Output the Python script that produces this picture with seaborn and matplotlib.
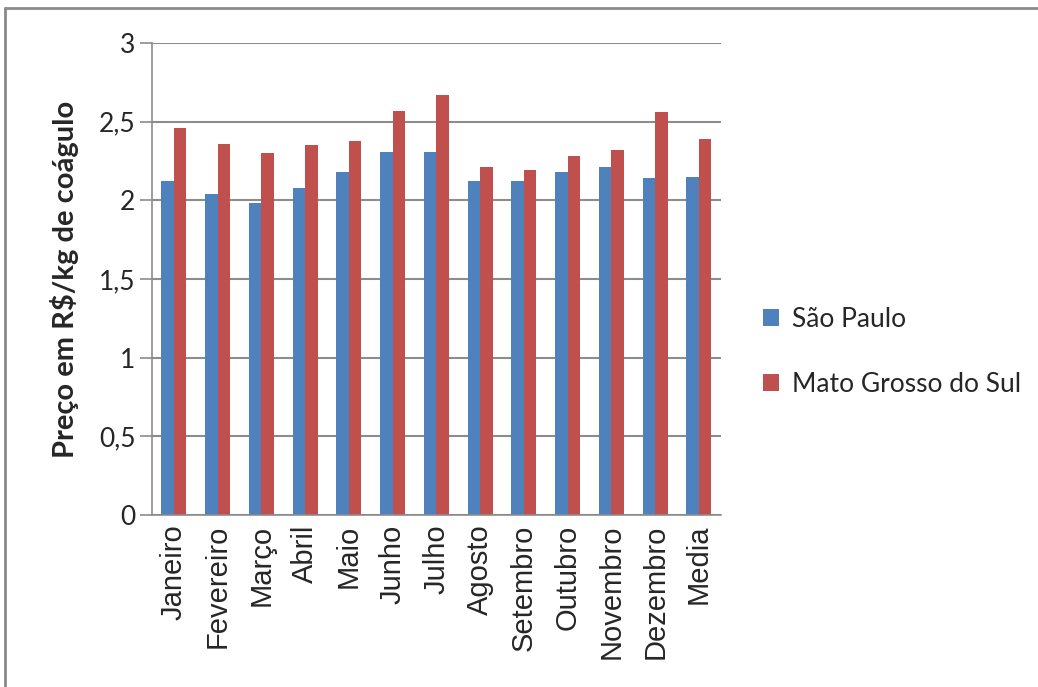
import pandas as pd
import numpy as np
import matplotlib
matplotlib.use("Agg")
import matplotlib.pyplot as plt
from matplotlib.lines import Line2D
from matplotlib.patches import Patch
import seaborn as sns

# dados (R$/kg de coágulo)
meses = ["Janeiro", "Fevereiro", "Março", "Abril", "Maio", "Junho", "Julho",
         "Agosto", "Setembro", "Outubro", "Novembro", "Dezembro", "Media"]
sao_paulo = [2.12, 2.04, 1.98, 2.08, 2.18, 2.31, 2.31, 2.12, 2.12, 2.18, 2.21, 2.14, 2.15]
mato_grosso_sul = [2.46, 2.36, 2.30, 2.35, 2.38, 2.57, 2.67, 2.21, 2.19, 2.28, 2.32, 2.56, 2.39]
estados = ["São Paulo", "Mato Grosso do Sul"]
cores = ["#4F81BD", "#C0504D"]

df = pd.DataFrame({
    "Mes": meses * 2,
    "Preco": sao_paulo + mato_grosso_sul,
    "Estado": [estados[0]] * len(meses) + [estados[1]] * len(meses),
})

sns.set_style("white")
plt.rcParams['font.family'] = ['Lato', 'DejaVu Sans']

fig = plt.figure(figsize=(10.38, 6.87), dpi=100)
ax = fig.add_axes([0.1464, 0.2504, 0.548, 0.687])

sns.barplot(data=df, x="Mes", y="Preco", hue="Estado", palette=cores,
            width=0.57, gap=0, dodge=True, ax=ax, legend=False,
            edgecolor="none", saturation=1)

ax.set_ylim(0, 3)
ax.set_xlim(-0.5, len(meses) - 0.5)
ax.set_yticks(np.arange(0, 3.01, 0.5))
ax.set_yticklabels(["0", "0,5", "1", "1,5", "2", "2,5", "3"], fontsize=19)
ax.yaxis.grid(True, color="#8c8c8c", linewidth=1.5)
ax.set_axisbelow(True)

ax.set_xticks(range(len(meses)))
ax.set_xticklabels(meses, rotation=90, fontsize=21, family="Liberation Sans")
ax.set_xticks(np.arange(-0.5, len(meses), 1), minor=True)
ax.tick_params(axis="x", which="major", length=0, pad=7)
ax.tick_params(axis="x", which="minor", length=8, width=1.2, color="#8c8c8c", direction="out")
ax.tick_params(axis="y", length=9, width=1.2, color="#8c8c8c", direction="out", pad=3, left=True)

ax.set_xlabel("")
ax.set_ylabel("Preço em R$/kg de coágulo", fontsize=21, fontweight="bold", labelpad=14)

for s in ["top", "right"]:
    ax.spines[s].set_visible(False)
for s in ["left", "bottom"]:
    ax.spines[s].set_color("#8c8c8c")
    ax.spines[s].set_linewidth(1.2)

handles = [Patch(facecolor=c, edgecolor="none") for c in cores]
fig.legend(handles, estados, loc="center left", bbox_to_anchor=(0.712, 0.488),
           frameon=False, fontsize=19, handlelength=0.6, handleheight=0.6,
           handletextpad=0.5, labelspacing=1.5)

# moldura cinza
fig.add_artist(Line2D([0.005, 1.0], [0.988, 0.988], transform=fig.transFigure,
                      color="#8a8a8a", linewidth=2))
fig.add_artist(Line2D([0.005, 0.005], [0.0, 0.988], transform=fig.transFigure,
                      color="#8a8a8a", linewidth=2))

fig.savefig("out.png", dpi=100)
